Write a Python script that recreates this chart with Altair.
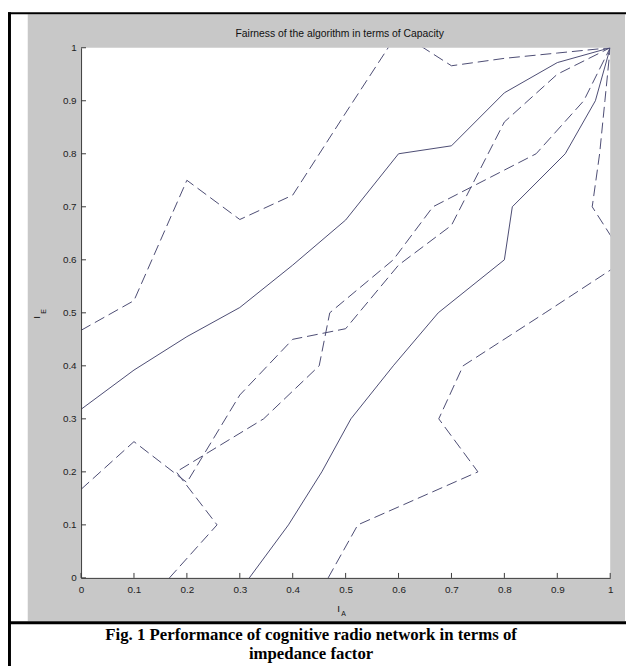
import altair as alt
import pandas as pd

# ---------------- data ----------------
grid = [0.0, 0.1, 0.2, 0.3, 0.4, 0.5, 0.6, 0.7, 0.8, 0.9, 1.0]

# upper solid curve
solid_up_x = grid
solid_up_y = [0.318, 0.392, 0.455, 0.51, 0.59, 0.675, 0.80, 0.815, 0.915, 0.972, 1.0]
# lower solid curve
solid_lo_x = [0.318, 0.392, 0.455, 0.51, 0.59, 0.675, 0.80, 0.815, 0.915, 0.972, 1.0]
solid_lo_y = grid

# outer dashed curve (top-left)
dash_up_x = grid
dash_up_y = [0.467, 0.523, 0.75, 0.676, 0.722, 0.877, 1.03, 0.966, 0.98, 0.99, 1.0]
# outer dashed curve (bottom-right)
dash_lo_x = [0.467, 0.523, 0.75, 0.676, 0.722, 0.877, 1.03, 0.966, 0.98, 0.99, 1.0]
dash_lo_y = grid

# inner dashed curves (crossing the diagonal)
dash_in1_x = grid
dash_in1_y = [0.167, 0.257, 0.18, 0.345, 0.45, 0.47, 0.59, 0.665, 0.86, 0.95, 1.0]
dash_in2_x = [0.167, 0.257, 0.18, 0.345, 0.45, 0.47, 0.59, 0.665, 0.86, 0.95, 1.0]
dash_in2_y = grid

tick_values = grid

title_text = "Fairness of the algorithm in terms of Capacity"
caption_1 = "Fig. 1 Performance of cognitive radio network in terms of"
caption_2 = "impedance factor"

# ---------------- tables ----------------
def curve_rows(name, xs, ys):
    return [dict(curve=name, idx=i, x=a, y=b) for i, (a, b) in enumerate(zip(xs, ys))]

solid_df = pd.DataFrame(curve_rows("s1", solid_up_x, solid_up_y)
                        + curve_rows("s2", solid_lo_x, solid_lo_y))
dash_df = pd.DataFrame(curve_rows("d1", dash_up_x, dash_up_y)
                       + curve_rows("d2", dash_lo_x, dash_lo_y)
                       + curve_rows("d3", dash_in1_x, dash_in1_y)
                       + curve_rows("d4", dash_in2_x, dash_in2_y))
tick_df = pd.DataFrame({"t": tick_values})
one = pd.DataFrame({"a": [0]})

W, H = 536, 537
LINE = "#4a4a72"
AX = "#3a3a3a"

xscale = alt.Scale(domain=[0, 1], nice=False, zero=False)
yscale = alt.Scale(domain=[0, 1], nice=False, zero=False)
xaxis = alt.Axis(values=tick_values, format=".1~f", title=None, ticks=False, grid=False,
                 labelFlush=False, labelOverlap=False, domainColor=AX, domainWidth=1,
                 labelFont="Liberation Sans", labelFontSize=10, labelColor="#222",
                 labelPadding=7, zindex=1)
yaxis = alt.Axis(values=tick_values, format=".1~f", title=None, ticks=False, grid=False,
                 labelFlush=False, labelOverlap=False, domainColor=AX, domainWidth=1,
                 labelFont="Liberation Sans", labelFontSize=10, labelColor="#222",
                 labelPadding=5, zindex=1)

def rect(x, x2, y, y2, color):
    return alt.Chart(one).mark_rect(color=color, clip=False).encode(
        x=alt.value(x), x2=alt.value(x2), y=alt.value(y), y2=alt.value(y2))

gray = rect(-54, 551, -34, 581, "#c8c8c8")
white = rect(0, W, 0, H, "#ffffff")
sep = rect(-74, 560, 581, 584, "#000000")
left_border = rect(-74, -71, -36, 640, "#000000")
top_border = rect(-74, 560, -36, -34, "#000000")

solid = alt.Chart(solid_df).mark_line(color=LINE, strokeWidth=1, clip=True).encode(
    x=alt.X("x:Q", scale=xscale, axis=xaxis),
    y=alt.Y("y:Q", scale=yscale, axis=yaxis),
    detail="curve:N", order="idx:Q")

dashed = alt.Chart(dash_df).mark_line(color=LINE, strokeWidth=1, strokeDash=[11, 5],
                                      clip=True).encode(
    x=alt.X("x:Q", scale=xscale, axis=xaxis),
    y=alt.Y("y:Q", scale=yscale, axis=yaxis),
    detail="curve:N", order="idx:Q")

xticks = alt.Chart(tick_df).mark_rule(color=AX, strokeWidth=1).encode(
    x=alt.X("t:Q", scale=xscale, axis=xaxis), y=alt.value(H), y2=alt.value(H - 5))
yticks = alt.Chart(tick_df).mark_rule(color=AX, strokeWidth=1).encode(
    y=alt.Y("t:Q", scale=yscale, axis=yaxis), x=alt.value(0), x2=alt.value(5))

def label(text, x, y, size, font="Liberation Sans", weight="normal", angle=0, color="#111"):
    return alt.Chart(one).mark_text(text=text, font=font, fontSize=size, fontWeight=weight,
                                    angle=angle, align="center", baseline="middle",
                                    color=color).encode(x=alt.value(x), y=alt.value(y))

title = label(title_text, 262, -14, 10.5)
xlab_i = label("I", 261, 569, 10)
xlab_a = label("A", 266, 574, 7)
ylab_i = label("I", -45, 273, 10, angle=270)
ylab_e = label("E", -38, 267, 7, angle=270)
cap1 = label(caption_1, 233, 595, 17, font="Liberation Serif", weight="bold", color="#000")
cap2 = label(caption_2, 233, 614, 17, font="Liberation Serif", weight="bold", color="#000")

chart = alt.layer(
    gray, white, sep, left_border, top_border,
    solid, dashed, xticks, yticks,
    title, xlab_i, xlab_a, ylab_i, ylab_e, cap1, cap2,
).properties(
    width=W, height=H,
    autosize=alt.AutoSizeParams(type="none"),
    padding={"left": 74, "top": 36, "right": 16, "bottom": 85},
).configure_view(stroke=None, fill="#ffffff").configure(background="#ffffff")

chart.save("out.html", embed_options={"renderer": "svg", "actions": False})
